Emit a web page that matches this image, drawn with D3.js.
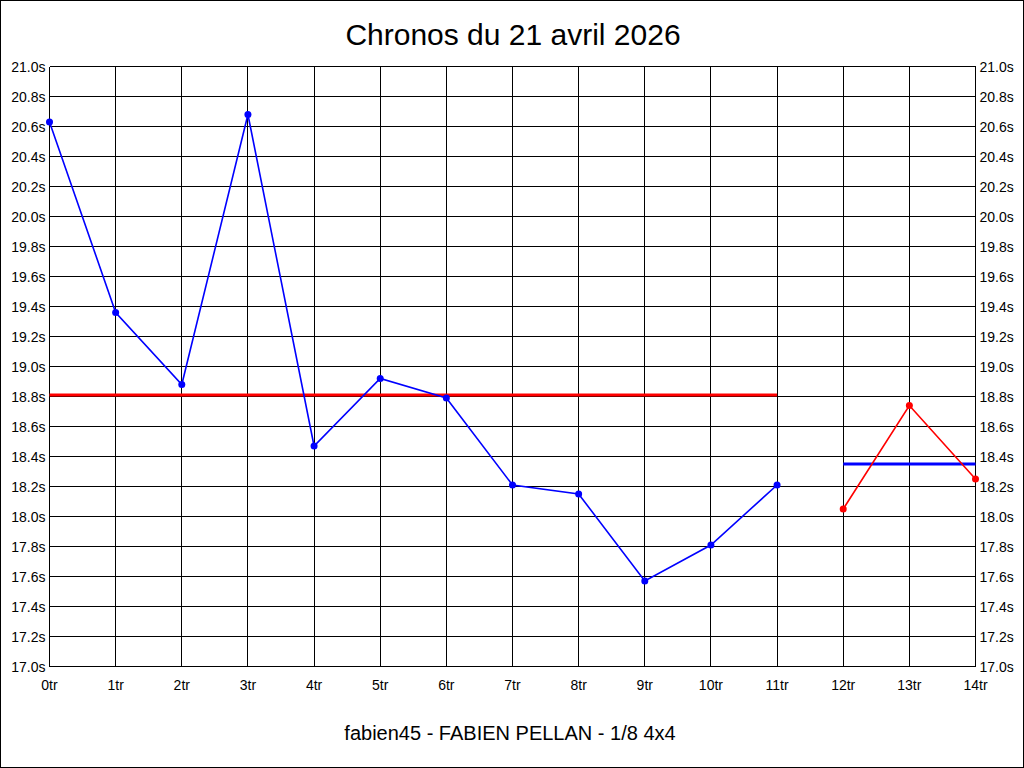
<!DOCTYPE html>
<html><head><meta charset="utf-8">
<script src="https://cdn.jsdelivr.net/npm/d3@7"></script>
<style>body{margin:0;background:#fff}svg{display:block}text{font-family:"Liberation Sans",Arial,sans-serif}</style>
</head><body>
<script>
const title = "Chronos du 21 avril 2026";
const subtitle = "fabien45 - FABIEN PELLAN - 1/8 4x4";
const xTicks = d3.range(0, 15);
const yTicks = [17.0,17.2,17.4,17.6,17.8,18.0,18.2,18.4,18.6,18.8,19.0,19.2,19.4,19.6,19.8,20.0,20.2,20.4,20.6,20.8,21.0];
const laps1 = [0,1,2,3,4,5,6,7,8,9,10,11];
const times1 = [20.63,19.36,18.88,20.68,18.47,18.92,18.79,18.21,18.15,17.57,17.81,18.21];
const laps2 = [12,13,14];
const times2 = [18.05,18.74,18.25];
const avg1 = [18.81, 18.81]; const avg1X = [0, 11];
const avg2 = [18.35, 18.35]; const avg2X = [12, 14];

const W = 1024, H = 768;
const svg = d3.select("body").append("svg").attr("width", W).attr("height", H);
svg.append("rect").attr("x",0.5).attr("y",0.5).attr("width",W-1).attr("height",H-1).attr("fill","#fff").attr("stroke","#000");
const x = d3.scaleLinear().domain([0,14]).range([49.5,975.5]);
const y = d3.scaleLinear().domain([17,21]).range([666.5,66.5]);

// grid
svg.append("g").attr("shape-rendering","crispEdges").selectAll("line").data(yTicks).join("line")
  .attr("x1",x(0)).attr("x2",x(14)).attr("y1",d=>y(d)).attr("y2",d=>y(d)).attr("stroke","#000");
svg.append("g").attr("shape-rendering","crispEdges").selectAll("line").data(xTicks).join("line")
  .attr("y1",y(17)).attr("y2",y(21)).attr("x1",d=>x(d)).attr("x2",d=>x(d)).attr("stroke","#000");

// axes labels
const fmtY = d => d.toFixed(1) + "s";
svg.append("g").selectAll("text").data(yTicks).join("text")
  .attr("x", x(0)-4).attr("y", d=>y(d)+5).attr("text-anchor","end").attr("font-size",14).text(fmtY);
svg.append("g").selectAll("text").data(yTicks).join("text")
  .attr("x", x(14)+4).attr("y", d=>y(d)+5).attr("text-anchor","start").attr("font-size",14).text(fmtY);
svg.append("g").selectAll("text").data(xTicks).join("text")
  .attr("x", d=>x(d)).attr("y", y(17)+23).attr("text-anchor","middle").attr("font-size",14).text(d=>d+"tr");

svg.append("text").attr("x",513).attr("y",45).attr("text-anchor","middle").attr("font-size",30).text(title);
svg.append("text").attr("x",510).attr("y",740).attr("text-anchor","middle").attr("font-size",20).text(subtitle);

const line = d3.line().x(d=>x(d[0])).y(d=>y(d[1]));
// average lines
svg.append("path").datum(d3.zip(avg1X, avg1)).attr("d", line).attr("stroke","#ff0000").attr("stroke-width",3).attr("fill","none");
svg.append("path").datum(d3.zip(avg2X, avg2)).attr("d", line).attr("stroke","#0000ff").attr("stroke-width",3).attr("fill","none");

function series(xs, ys, color){
  const pts = d3.zip(xs, ys);
  svg.append("path").datum(pts).attr("d", line).attr("stroke",color).attr("stroke-width",1.6).attr("fill","none");
  svg.append("g").selectAll("circle").data(pts).join("circle")
    .attr("cx",d=>x(d[0])).attr("cy",d=>y(d[1])).attr("r",3.5).attr("fill",color);
}
series(laps1, times1, "#0000ff");
series(laps2, times2, "#ff0000");
</script>
</body></html>
